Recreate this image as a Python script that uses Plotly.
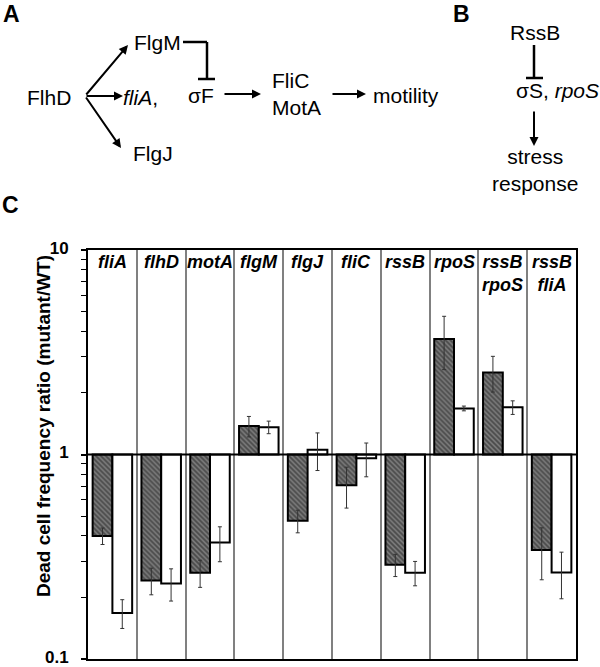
import plotly.graph_objects as go

# ---------------- data ----------------
categories = ['fliA', 'flhD', 'motA', 'flgM', 'flgJ', 'fliC', 'rssB', 'rpoS', 'rssB rpoS', 'rssB fliA']
hatched_vals = [0.40, 0.242, 0.264, 1.377, 0.474, 0.707, 0.289, 3.67, 2.52, 0.341]
hatched_err = [0.037, 0.036, 0.04, 0.158, 0.06, 0.16, 0.036, 1.07, 0.50, 0.097]
white_vals = [0.168, 0.234, 0.371, 1.36, 1.055, 0.958, 0.264, 1.68, 1.70, 0.265]
white_err = [0.027, 0.042, 0.072, 0.096, 0.22, 0.18, 0.036, 0.045, 0.13, 0.068]
baseline = 1.0
y_ticks = [0.1, 1, 10]
y_ticktext = ['0.1', '1', '10']
y_minor = [0.2, 0.3, 0.4, 0.5, 0.6, 0.7, 0.8, 0.9, 2, 3, 4, 5, 6, 7, 8, 9]
y_title = 'Dead cell frequency ratio (mutant/WT)'

FONT = 'Liberation Sans, Arial, sans-serif'

FIG_W, FIG_H = 600, 667
# plot area in page pixels: x 88..576, y 250..659
L, T = 88, 250
R = FIG_W - 576
B = FIG_H - 659
W, H = FIG_W - L - R, FIG_H - T - B


def px(x):
    return (x - L) / W


def py(y):
    return (FIG_H - B - y) / H


fig = go.Figure()
fig.add_trace(go.Bar(
    x=categories, y=[v - baseline for v in hatched_vals], base=baseline,
    marker=dict(color='#666', line=dict(color='black', width=2),
                pattern=dict(shape='\\', fgcolor='#1a1a1a', bgcolor='#7a7a7a', size=3.5, solidity=0.5)),
    error_y=dict(type='data', array=hatched_err, color='#333', thickness=1, width=2),
    showlegend=False, hoverinfo='skip'))
fig.add_trace(go.Bar(
    x=categories, y=[v - baseline for v in white_vals], base=baseline,
    marker=dict(color='white', line=dict(color='black', width=2)),
    error_y=dict(type='data', array=white_err, color='#333', thickness=1, width=2),
    showlegend=False, hoverinfo='skip'))

fig.add_shape(type='line', xref='x domain', x0=0, x1=1, yref='y', y0=baseline, y1=baseline,
              line=dict(color='black', width=2))

ann = []
# category labels
for c in categories:
    ann.append(dict(x=c, xref='x', y=1, yref='paper', yanchor='top', yshift=0,
                    text='<b><i>' + c.replace(' ', '<br>') + '</i></b>', showarrow=False,
                    font=dict(family=FONT, size=18, color='black')))
# y title
ann.append(dict(x=px(43), y=py(426), xref='paper', yref='paper', xanchor='center', yanchor='middle',
                text='<b>' + y_title + '</b>', textangle=-90, showarrow=False,
                font=dict(family=FONT, size=19, color='black')))

# panel letters
for letter, (x, y) in {'A': (11, 14), 'B': (461, 14), 'C': (10, 205)}.items():
    ann.append(dict(x=px(x), y=py(y), xref='paper', yref='paper', xanchor='center', yanchor='middle',
                    text='<b>' + letter + '</b>', showarrow=False,
                    font=dict(family=FONT, size=23, color='black')))

dfont = dict(family=FONT, size=21, color='black')
texts = [
    ('FlgM', 157, 43, 'center'),
    ('FlhD', 49, 97, 'center'),
    ('<i>fliA</i>,', 121, 97, 'left'),
    ('σF', 201, 96, 'center'),
    ('FlgJ', 153, 153, 'center'),
    ('FliC<br>MotA', 270, 94, 'left'),
    ('motility', 371, 96, 'left'),
    ('RssB', 535, 32, 'center'),
    ('σS, <i>rpoS</i>', 514, 90, 'left'),
    ('stress<br>response', 535, 170, 'center'),
]
for t, x, y, anchor in texts:
    ann.append(dict(x=px(x), y=py(y), xref='paper', yref='paper', text=t, showarrow=False,
                    xanchor=anchor, yanchor='middle', align=anchor, font=dfont))

arrows = [
    ((85, 96), (128, 45)),
    ((85, 96), (123, 96)),
    ((85, 96), (121, 148)),
    ((223, 94), (261, 94)),
    ((331, 94), (366, 94)),
    ((534, 110), (534, 146)),
]
for (tx, ty), (hx, hy) in arrows:
    ann.append(dict(x=px(hx), y=py(hy), xref='paper', yref='paper', ax=tx - hx, ay=ty - hy,
                    axref='pixel', ayref='pixel', text='', showarrow=True, arrowhead=2,
                    arrowsize=0.9, arrowwidth=2, arrowcolor='black', standoff=0, startstandoff=0))

shapes_px = [
    ((183, 42), (207, 42)),
    ((207, 42), (207, 79)),
    ((198, 79), (215, 79)),
    ((534, 45), (534, 78)),
    ((526, 78), (543, 78)),
]
for (x0, y0), (x1, y1) in shapes_px:
    fig.add_shape(type='line', xref='paper', yref='paper', x0=px(x0), y0=py(y0), x1=px(x1), y1=py(y1),
                  line=dict(color='black', width=2.5))

fig.update_layout(
    width=FIG_W, height=FIG_H, margin=dict(l=L, r=R, t=T, b=B, autoexpand=False),
    paper_bgcolor='white', plot_bgcolor='white',
    barmode='group', bargap=0.19, bargroupgap=0,
    annotations=ann,
    xaxis=dict(type='category', tickson='boundaries', showgrid=True, gridcolor='#808080', gridwidth=1.5,
               showticklabels=False, ticks='', showline=True, mirror=True, linecolor='black', linewidth=2,
               range=[-0.5, 9.5], zeroline=False, automargin=False),
    yaxis=dict(type='log', range=[-1, 1], tickvals=y_ticks, ticktext=y_ticktext, ticks='outside',
               ticklen=5, tickwidth=1.5, tickcolor='black', showgrid=False, showline=True, mirror=True,
               linecolor='black', linewidth=2, ticklabeloverflow='allow', automargin=False,
               ticklabelstandoff=9, ticklabelshift=-2,
               tickfont=dict(family=FONT, size=17, color='black', weight='bold'),
               minor=dict(tickvals=y_minor, ticks='outside', ticklen=5, tickwidth=1, tickcolor='black',
                          showgrid=False)),
)

fig.write_html('out.html', config={'displayModeBar': False},
               post_script="document.body.style.margin='0';")
